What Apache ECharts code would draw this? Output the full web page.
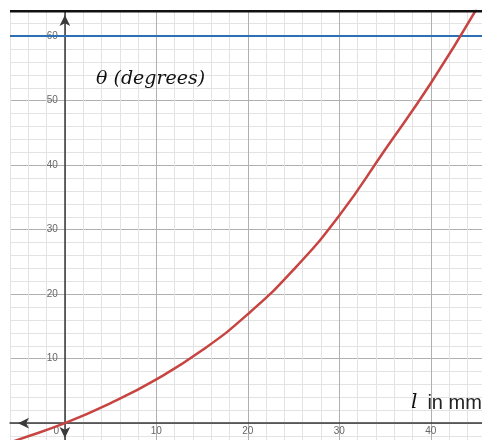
<!DOCTYPE html>
<html>
<head>
<meta charset="utf-8">
<script src="https://cdn.jsdelivr.net/npm/echarts@6/dist/echarts.min.js"></script>
<style>
  html, body { margin: 0; padding: 0; background: #fff; }
  #chart { width: 482px; height: 440px; }
</style>
</head>
<body>
<div id="chart"></div>
<script>
// l in mm -> theta in degrees
var lengths = [-6, -5, 0, 5, 10, 15, 20, 25, 30, 35, 40, 45]
var angles = [-3.0, -2.5, 0, 3.1, 6.8, 11.3, 16.9, 23.8, 32.2, 42.4, 52.7, 64.2]
var limitAngle = 60
var xTickLabels = [10, 20, 30, 40]
var yTickLabels = [10, 20, 30, 40, 50, 60]

var minor = '#e3e3e3'
var major = '#b0b0b0'

// grid geometry (px), axes sit where the other axis is zero
var gridLeft = 10, gridTop = 11, gridBottom = -9
var xMin = -6, xMax = 45.6, yMin = -4, yMax = 63.9

var chart = echarts.init(document.getElementById('chart'))

var gridW = 482 - gridLeft
var gridH = 440 - gridTop - gridBottom
var yAxisShift = -(0 - xMin) / (xMax - xMin) * gridW
var xAxisShift = -(0 - yMin) / (yMax - yMin) * gridH

chart.setOption({
  animation: false,
  title: [{
    text: 'θ (degrees)',
    left: 91,
    top: 65,
    textStyle: {
      fontFamily: 'DejaVu Serif',
      fontStyle: 'italic',
      fontWeight: 'normal',
      fontSize: 19,
      color: '#111'
    }
  }, {
    text: '{i|l}  {t|in mm}',
    left: 406,
    top: 388,
    textStyle: {
      fontWeight: 'normal',
      rich: {
        i: { fontFamily: 'DejaVu Serif', fontStyle: 'italic', fontWeight: 'normal', fontSize: 20, color: '#111' },
        t: { fontFamily: 'Liberation Sans', fontWeight: 'normal', fontSize: 20, color: '#222' }
      }
    }
  }],
  graphic: [{
    type: 'rect',
    shape: { x: 10, y: 10, width: 472, height: 2.5 },
    style: { fill: '#111' },
    z: 100
  }],
  grid: {
    left: gridLeft,
    right: 0,
    top: gridTop,
    bottom: gridBottom,
    containLabel: false,
    outerBoundsMode: 'none'
  },
  xAxis: {
    type: 'value',
    min: xMin,
    max: xMax,
    interval: 2,
    position: 'bottom',
    offset: xAxisShift,
    axisLine: {
      onZero: false,
      symbol: ['arrow', 'none'],
      symbolSize: [8, 11],
      symbolOffset: [8, 0],
      lineStyle: { color: '#3a3a3a', width: 1.5 }
    },
    axisTick: { show: false },
    axisLabel: {
      margin: 3,
      fontSize: 10,
      color: '#666',
      formatter: function (v) {
        if (v === 0) return '{z|0}'
        return xTickLabels.indexOf(v) >= 0 ? String(v) : ''
      },
      rich: {
        z: { fontSize: 10, color: '#666', padding: [0, 17, 0, 0] }
      }
    },
    splitLine: {
      show: true,
      lineStyle: { color: [minor, minor, minor, major, minor], width: 1 }
    }
  },
  yAxis: {
    type: 'value',
    min: yMin,
    max: yMax,
    interval: 2,
    position: 'left',
    offset: yAxisShift,
    axisLine: {
      onZero: false,
      symbol: ['arrow', 'arrow'],
      symbolSize: [8, 11],
      symbolOffset: [11, -4],
      lineStyle: { color: '#3a3a3a', width: 1.5 }
    },
    axisTick: { show: false },
    axisLabel: {
      margin: 7,
      fontSize: 10,
      color: '#666',
      formatter: function (v) {
        return yTickLabels.indexOf(v) >= 0 ? String(v) : ''
      }
    },
    splitLine: {
      show: true,
      lineStyle: { color: [minor, minor, major, minor, minor], width: 1 }
    }
  },
  series: [{
    name: 'theta',
    type: 'line',
    smooth: 0.5,
    showSymbol: false,
    clip: true,
    data: lengths.map(function (l, i) { return [l, angles[i]] }),
    lineStyle: { color: '#c74440', width: 2.5 },
    z: 5
  }, {
    name: 'limit',
    type: 'line',
    data: [],
    markLine: {
      silent: true,
      symbol: ['none', 'none'],
      label: { show: false },
      lineStyle: { color: '#2d70b3', width: 2, type: 'solid' },
      data: [{ yAxis: limitAngle }]
    },
    z: 4
  }]
})
</script>
</body>
</html>
